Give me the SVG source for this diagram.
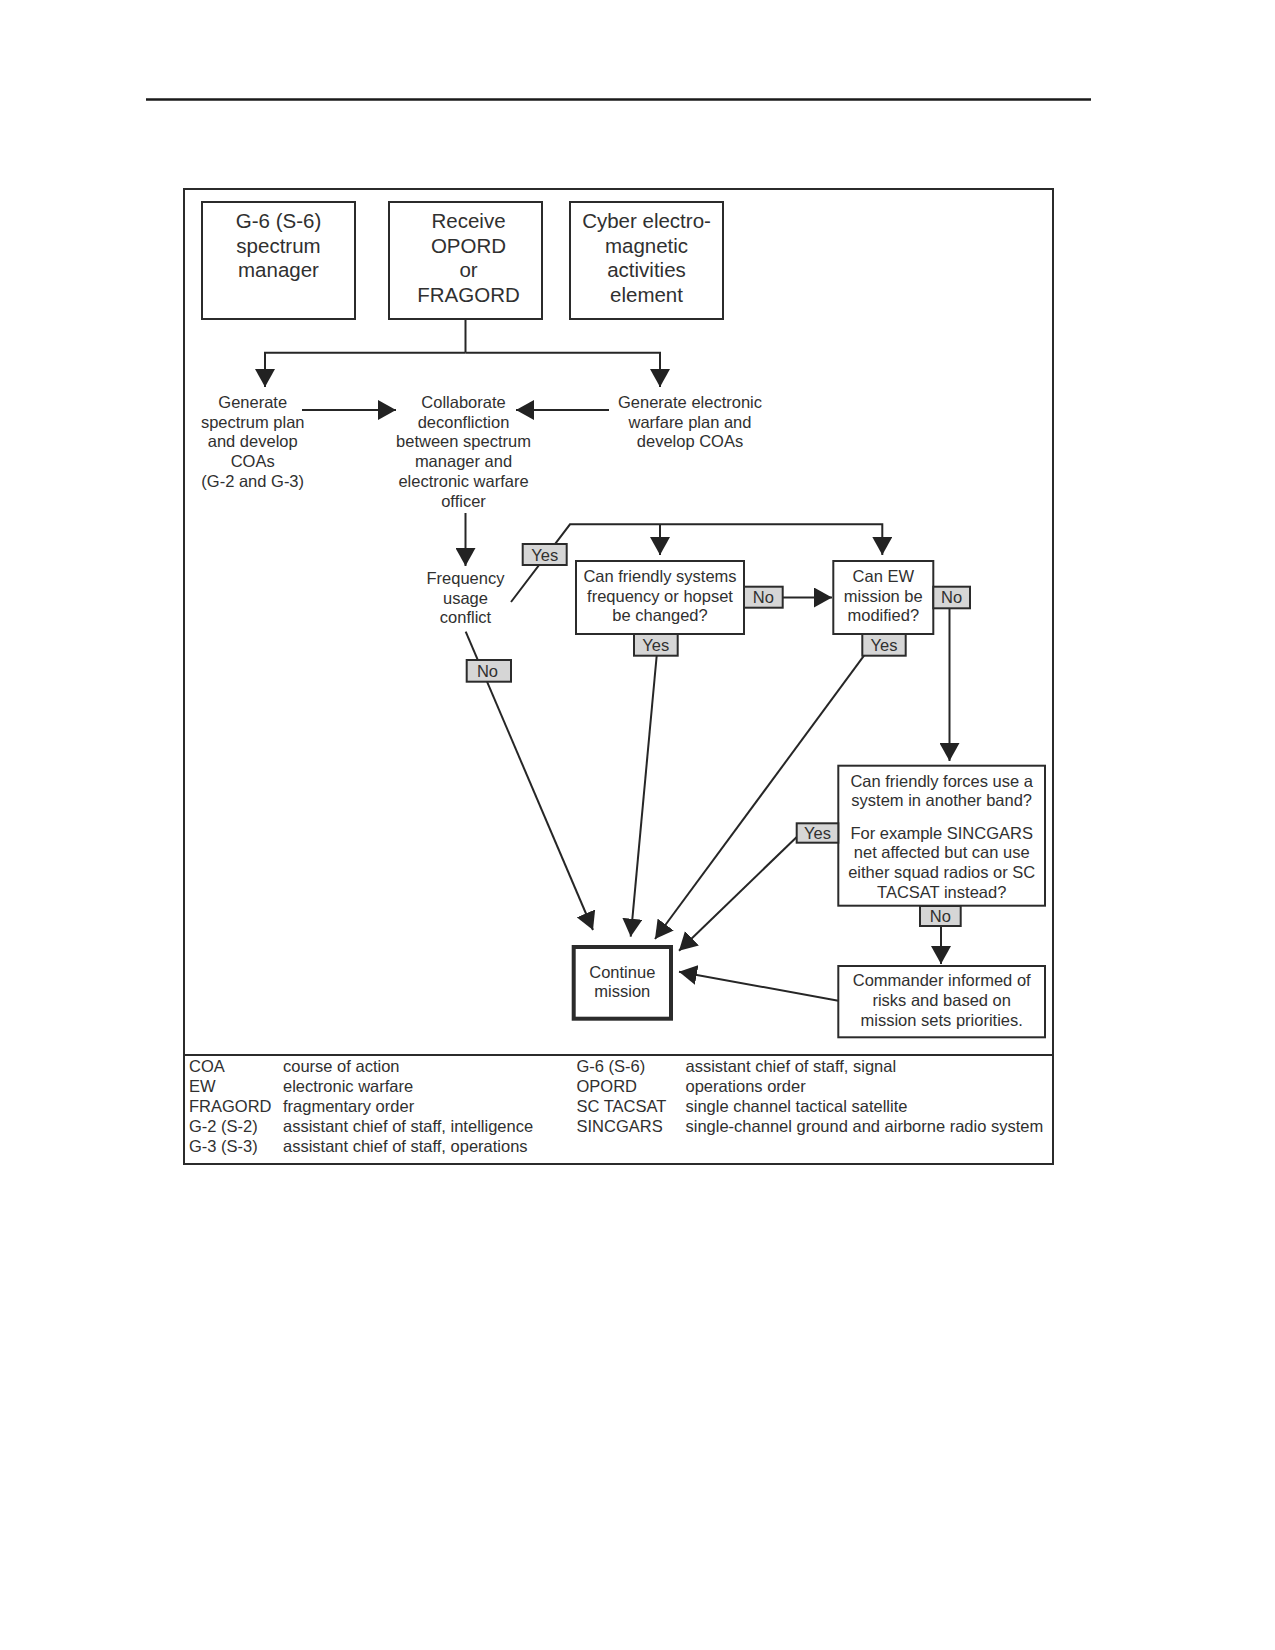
<svg xmlns="http://www.w3.org/2000/svg" width="1275" height="1650" viewBox="0 0 1275 1650">
<defs>
<marker id="ah" markerUnits="userSpaceOnUse" markerWidth="19" markerHeight="20" refX="18" refY="10" orient="auto">
<path d="M0,0 L18,10 L0,20 z" fill="#222"/>
</marker>
<style>
.t{font-family:"Liberation Sans",Arial,sans-serif;fill:#303030;text-anchor:middle}
.big{font-size:20.5px}
.sm{font-size:16.5px}
.box{fill:#fff;stroke:#2b2b2b;stroke-width:2}
.lbl{fill:#d6d6d6;stroke:#2b2b2b;stroke-width:2}
.ln{fill:none;stroke:#262626;stroke-width:2}
.lg{font-family:"Liberation Sans",Arial,sans-serif;fill:#303030;font-size:16.5px}
</style>
</defs>
<rect width="1275" height="1650" fill="#fff"/>
<line x1="146" y1="99.5" x2="1091" y2="99.5" stroke="#1a1a1a" stroke-width="2.5"/>
<rect x="184" y="189" width="869" height="975" fill="none" stroke="#2b2b2b" stroke-width="2"/>
<line x1="184" y1="1055" x2="1053" y2="1055" stroke="#2b2b2b" stroke-width="2"/>

<g id="connectors">
<path class="ln" d="M465.5,319 V352.7"/>
<path class="ln" d="M465.5,352.7 H265 V387" marker-end="url(#ah)"/>
<path class="ln" d="M465.5,352.7 H660 V387" marker-end="url(#ah)"/>
<path class="ln" d="M302,410 H396" marker-end="url(#ah)"/>
<path class="ln" d="M609,410 H516" marker-end="url(#ah)"/>
<path class="ln" d="M465.5,513 V566" marker-end="url(#ah)"/>
<path class="ln" d="M511,602 L570,524.3 H882.3 V555" marker-end="url(#ah)"/>
<path class="ln" d="M660,524.3 V555" marker-end="url(#ah)"/>
<path class="ln" d="M465.7,631.7 L593,930" marker-end="url(#ah)"/>
<path class="ln" d="M658.7,634 L630.7,936.7" marker-end="url(#ah)"/>
<path class="ln" d="M744,597.5 H832" marker-end="url(#ah)"/>
<path class="ln" d="M864,655.7 L655,939" marker-end="url(#ah)"/>
<path class="ln" d="M949.5,608 V761" marker-end="url(#ah)"/>
<path class="ln" d="M797,836.7 L679,950.7" marker-end="url(#ah)"/>
<path class="ln" d="M941,926 V964" marker-end="url(#ah)"/>
<path class="ln" d="M838.3,1000.7 L679,971.7" marker-end="url(#ah)"/>
</g>

<g id="n-g6">
<rect class="box" x="202" y="202" width="153" height="117"/>
<text class="t big" x="278.5" y="228">G-6 (S-6)</text>
<text class="t big" x="278.5" y="252.5">spectrum</text>
<text class="t big" x="278.5" y="277">manager</text>
</g>
<g id="n-receive">
<rect class="box" x="389" y="202" width="153" height="117"/>
<text class="t big" x="468.5" y="228">Receive</text>
<text class="t big" x="468.5" y="252.5">OPORD</text>
<text class="t big" x="468.5" y="277">or</text>
<text class="t big" x="468.5" y="301.5">FRAGORD</text>
</g>
<g id="n-cema">
<rect class="box" x="570" y="202" width="153" height="117"/>
<text class="t big" x="646.5" y="228">Cyber electro-</text>
<text class="t big" x="646.5" y="252.5">magnetic</text>
<text class="t big" x="646.5" y="277">activities</text>
<text class="t big" x="646.5" y="301.5">element</text>
</g>
<g id="n-genspec">
<text class="t sm" x="252.7" y="407.7">Generate</text>
<text class="t sm" x="252.7" y="427.5">spectrum plan</text>
<text class="t sm" x="252.7" y="447.3">and develop</text>
<text class="t sm" x="252.7" y="467.1">COAs</text>
<text class="t sm" x="252.7" y="486.9">(G-2 and G-3)</text>
</g>
<g id="n-collab">
<text class="t sm" x="463.5" y="407.7">Collaborate</text>
<text class="t sm" x="463.5" y="427.5">deconfliction</text>
<text class="t sm" x="463.5" y="447.3">between spectrum</text>
<text class="t sm" x="463.5" y="467.1">manager and</text>
<text class="t sm" x="463.5" y="486.9">electronic warfare</text>
<text class="t sm" x="463.5" y="506.7">officer</text>
</g>
<g id="n-genew">
<text class="t sm" x="690" y="407.7">Generate electronic</text>
<text class="t sm" x="690" y="427.5">warfare plan and</text>
<text class="t sm" x="690" y="447.3">develop COAs</text>
</g>
<g id="n-freq">
<text class="t sm" x="465.5" y="584">Frequency</text>
<text class="t sm" x="465.5" y="603.5">usage</text>
<text class="t sm" x="465.5" y="623">conflict</text>
</g>
<g id="n-canfreq">
<rect class="box" x="576" y="561" width="168" height="73"/>
<text class="t sm" x="660" y="582">Can friendly systems</text>
<text class="t sm" x="660" y="601.5">frequency or hopset</text>
<text class="t sm" x="660" y="621">be changed?</text>
</g>
<g id="n-canew">
<rect class="box" x="833.3" y="561" width="100" height="73"/>
<text class="t sm" x="883.3" y="582">Can EW</text>
<text class="t sm" x="883.3" y="601.5">mission be</text>
<text class="t sm" x="883.3" y="621">modified?</text>
</g>
<g id="n-canband">
<rect class="box" x="838.3" y="765.7" width="206.7" height="140"/>
<text class="t sm" x="941.7" y="786.7">Can friendly forces use a</text>
<text class="t sm" x="941.7" y="805.7">system in another band?</text>
<text class="t sm" x="941.7" y="839.3">For example SINCGARS</text>
<text class="t sm" x="941.7" y="858.3">net affected but can use</text>
<text class="t sm" x="941.7" y="878.3">either squad radios or SC</text>
<text class="t sm" x="941.7" y="897.7">TACSAT instead?</text>
</g>
<g id="n-commander">
<rect class="box" x="838.3" y="966" width="206.7" height="71.3"/>
<text class="t sm" x="941.7" y="985.5">Commander informed of</text>
<text class="t sm" x="941.7" y="1005.5">risks and based on</text>
<text class="t sm" x="941.7" y="1025.5">mission sets priorities.</text>
</g>
<g id="n-continue">
<rect x="573.7" y="947" width="97.3" height="71.7" fill="#fff" stroke="#2b2b2b" stroke-width="4"/>
<text class="t sm" x="622.3" y="977.7">Continue</text>
<text class="t sm" x="622.3" y="997">mission</text>
</g>

<g id="labels">
<rect class="lbl" x="522.7" y="544" width="44" height="21"/>
<text class="t sm" x="544.7" y="560.5">Yes</text>
<rect class="lbl" x="466.7" y="660" width="44.3" height="21.7"/>
<text class="t sm" x="487.5" y="676.5">No</text>
<rect class="lbl" x="744" y="586.7" width="38.7" height="21"/>
<text class="t sm" x="763.3" y="603">No</text>
<rect class="lbl" x="634" y="634" width="43.7" height="21.7"/>
<text class="t sm" x="655.8" y="650.5">Yes</text>
<rect class="lbl" x="862.3" y="634" width="43.4" height="21.7"/>
<text class="t sm" x="884" y="650.5">Yes</text>
<rect class="lbl" x="933.3" y="586.7" width="36.7" height="21.6"/>
<text class="t sm" x="951.6" y="603">No</text>
<rect class="lbl" x="796.7" y="823.3" width="41.6" height="19.4"/>
<text class="t sm" x="817.5" y="839">Yes</text>
<rect class="lbl" x="920" y="906" width="40.7" height="20"/>
<text class="t sm" x="940.3" y="922">No</text>
</g>

<g id="legend">
<text class="lg" x="189" y="1072">COA</text>
<text class="lg" x="283" y="1072">course of action</text>
<text class="lg" x="189" y="1092">EW</text>
<text class="lg" x="283" y="1092">electronic warfare</text>
<text class="lg" x="189" y="1112">FRAGORD</text>
<text class="lg" x="283" y="1112">fragmentary order</text>
<text class="lg" x="189" y="1132">G-2 (S-2)</text>
<text class="lg" x="283" y="1132">assistant chief of staff, intelligence</text>
<text class="lg" x="189" y="1152">G-3 (S-3)</text>
<text class="lg" x="283" y="1152">assistant chief of staff, operations</text>
<text class="lg" x="576.5" y="1072">G-6 (S-6)</text>
<text class="lg" x="685.5" y="1072">assistant chief of staff, signal</text>
<text class="lg" x="576.5" y="1092">OPORD</text>
<text class="lg" x="685.5" y="1092">operations order</text>
<text class="lg" x="576.5" y="1112">SC TACSAT</text>
<text class="lg" x="685.5" y="1112">single channel tactical satellite</text>
<text class="lg" x="576.5" y="1132">SINCGARS</text>
<text class="lg" x="685.5" y="1132">single-channel ground and airborne radio system</text>
</g>
</svg>
